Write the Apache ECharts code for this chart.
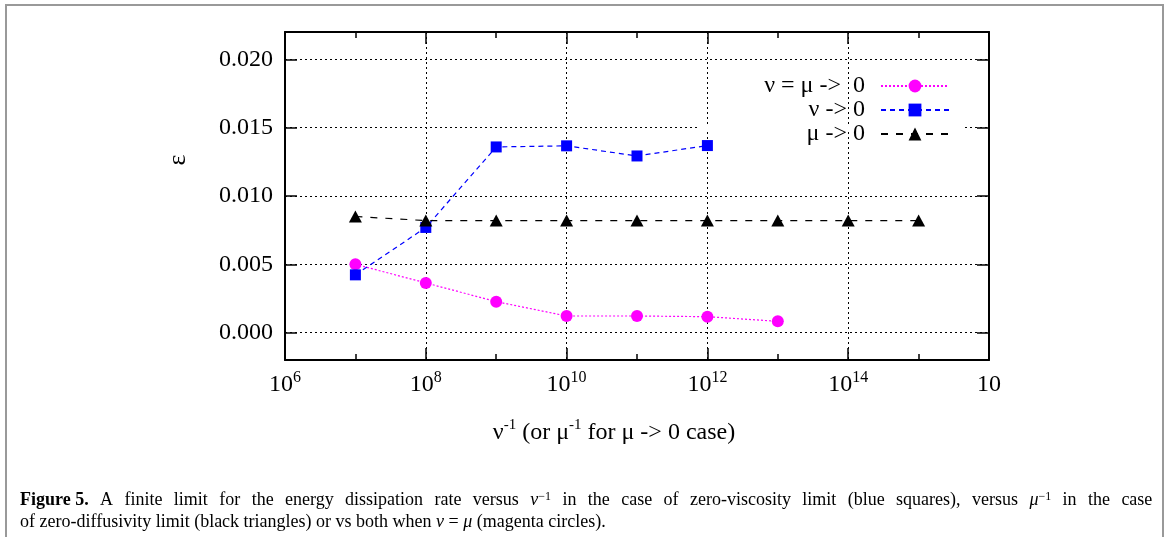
<!DOCTYPE html>
<html>
<head>
<meta charset="utf-8">
<script src="https://cdn.jsdelivr.net/npm/echarts@6/dist/echarts.min.js"></script>
<style>
  html, body { margin: 0; padding: 0; background: #fff; }
  #chart { width: 1168px; height: 537px; }
</style>
</head>
<body>
<div id="chart"></div>
<script>
// nu^-1 (or mu^-1) values and dissipation rate epsilon
var xBoth = [1e7, 1e8, 1e9, 1e10, 1e11, 1e12, 1e13];
var epsBoth = [0.0050, 0.00364, 0.00227, 0.00122, 0.00122, 0.00117, 0.00083];

var xNu = [1e7, 1e8, 1e9, 1e10, 1e11, 1e12];
var epsNu = [0.00423, 0.00770, 0.01359, 0.01367, 0.01293, 0.01369];

var xMu = [1e7, 1e8, 1e9, 1e10, 1e11, 1e12, 1e13, 1e14, 1e15];
var epsMu = [0.0085, 0.0082, 0.0082, 0.0082, 0.0082, 0.0082, 0.0082, 0.0082, 0.0082];

var seriesNames = ['ν = μ ->  0', 'ν -> 0', 'μ -> 0'];
var yTicks = [0, 0.005, 0.010, 0.015, 0.020];

var serif = 'Liberation Serif';

// x axis is drawn on log10 values (exponent), labels as 10^n
function toPairs(xs, ys) {
  return xs.map(function (x, i) { return [Math.log10(x), ys[i]]; });
}

var axisLine = { show: true, onZero: false, lineStyle: { color: '#000', width: 2 } };
var tickLine = { color: '#000', width: 1.5 };
var gridLine = { show: true, lineStyle: { color: '#000', width: 1, type: [2, 3] } };

// caption, first line is justified in the original: spaces become fixed-width tokens
var caption1 = '{b|Figure 5.} A finite limit for the energy dissipation rate versus {i|ν}{s|−1} in the case of zero-viscosity limit (blue squares), versus {i|μ}{s|−1} in the case';
var caption2 = 'of zero-diffusivity limit (black triangles) or vs both when {i|ν} = {i|μ} (magenta circles).';
var captionRich = {
  b: { fontFamily: serif, fontSize: 18, fontWeight: 'bold' },
  i: { fontFamily: serif, fontSize: 18, fontStyle: 'italic' },
  s: { fontFamily: serif, fontSize: 12, verticalAlign: 'top' },
  w: { fontFamily: serif, fontSize: 18, width: 11.4 }
};

var myChart = echarts.init(document.getElementById('chart'));

var option = {
  animation: false,
  textStyle: { fontFamily: serif, color: '#000' },
  grid: { left: 285, right: 179, top: 32, bottom: 177 },
  legend: {
    orient: 'vertical',
    right: 213,
    top: 69,
    align: 'right',
    itemWidth: 68,
    itemHeight: 16,
    itemGap: 0,
    textStyle: { fontFamily: serif, fontSize: 24, color: '#000', lineHeight: 24, padding: [0, 11, 0, 0] },
    data: seriesNames
  },
  xAxis: [{
    type: 'value',
    min: 6, max: 16, interval: 2,
    axisLine: axisLine,
    axisTick: { inside: true, length: 12, lineStyle: tickLine },
    minorTick: { show: true, splitNumber: 2, length: 6, lineStyle: tickLine },
    splitLine: gridLine,
    axisLabel: {
      margin: 10,
      formatter: function (v) {
        // the last label is clipped in the original figure
        return v === 16 ? '{b|10}' : '{b|10}{s|' + v + '}';
      },
      rich: {
        b: { fontFamily: serif, fontSize: 24, lineHeight: 30, color: '#000' },
        s: { fontFamily: serif, fontSize: 16, verticalAlign: 'top', color: '#000' }
      }
    },
    name: '{n|ν}{s|-1}{n| (or μ}{s|-1}{n| for μ -> 0 case)}',
    nameLocation: 'middle',
    nameGap: 58,
    nameTextStyle: {
      padding: [0, 46, 0, 0],
      rich: {
        n: { fontFamily: serif, fontSize: 24, lineHeight: 30, color: '#000' },
        s: { fontFamily: serif, fontSize: 15, verticalAlign: 'top', color: '#000' }
      }
    }
  }, {
    type: 'value',
    position: 'top',
    min: 6, max: 16, interval: 2,
    axisLine: axisLine,
    axisTick: { inside: true, length: 12, lineStyle: tickLine },
    minorTick: { show: true, splitNumber: 2, length: 6, lineStyle: tickLine },
    splitLine: { show: false },
    axisLabel: { show: false }
  }],
  yAxis: [{
    type: 'value',
    min: -0.002, max: 0.022,
    axisLine: axisLine,
    axisTick: { inside: true, length: 12, lineStyle: tickLine, customValues: yTicks },
    splitLine: gridLine,
    axisLabel: {
      customValues: yTicks,
      margin: 12,
      fontFamily: serif, fontSize: 24, color: '#000',
      formatter: function (v) { return v.toFixed(3); }
    },
    name: 'ε',
    nameLocation: 'middle',
    nameRotate: 90,
    nameGap: 94,
    nameTextStyle: { fontFamily: serif, fontSize: 26, color: '#000', padding: [0, 0, 0, 72] }
  }, {
    type: 'value',
    position: 'right',
    min: -0.002, max: 0.022,
    axisLine: axisLine,
    axisTick: { inside: true, length: 12, lineStyle: tickLine, customValues: yTicks },
    axisLabel: { show: false, customValues: yTicks },
    splitLine: { show: false }
  }],
  series: [{
    name: seriesNames[0],
    type: 'line',
    data: toPairs(xBoth, epsBoth),
    symbol: 'circle',
    symbolSize: 12,
    itemStyle: { color: '#ff00ff' },
    lineStyle: { color: '#ff00ff', width: 1.2, type: [2, 2] }
  }, {
    name: seriesNames[1],
    type: 'line',
    data: toPairs(xNu, epsNu),
    symbol: 'rect',
    symbolSize: 11,
    itemStyle: { color: '#0000ff' },
    lineStyle: { color: '#0000ff', width: 1.2, type: [5, 4] }
  }, {
    name: seriesNames[2],
    type: 'line',
    data: toPairs(xMu, epsMu),
    symbol: 'triangle',
    symbolSize: [13, 12],
    itemStyle: { color: '#000' },
    lineStyle: { color: '#000', width: 1.2, type: [7, 8] }
  }],
  graphic: [{
    type: 'rect',
    silent: true,
    shape: { x: 6, y: 5, width: 1157, height: 560 },
    style: { fill: 'none', stroke: '#999', lineWidth: 2 }
  }, {
    type: 'text',
    left: 20,
    top: 491,
    style: {
      text: caption1.replace(/ (?![^{]*\})/g, '{w| }'),
      fontFamily: serif,
      fontSize: 18,
      fill: '#000',
      rich: captionRich
    }
  }, {
    type: 'text',
    left: 20,
    top: 513,
    style: {
      text: caption2,
      fontFamily: serif,
      fontSize: 18,
      fill: '#000',
      rich: captionRich
    }
  }]
};

myChart.setOption(option);

// the 0.015 grid line is interrupted behind the key in the original
var yGap = myChart.convertToPixel({ yAxisIndex: 0 }, 0.015);
myChart.setOption({
  graphic: [{}, {}, {}, {
    type: 'rect',
    silent: true,
    z: 1,
    shape: { x: 699, y: yGap - 1.5, width: 266, height: 3 },
    style: { fill: '#fff' }
  }]
});
</script>
</body>
</html>
